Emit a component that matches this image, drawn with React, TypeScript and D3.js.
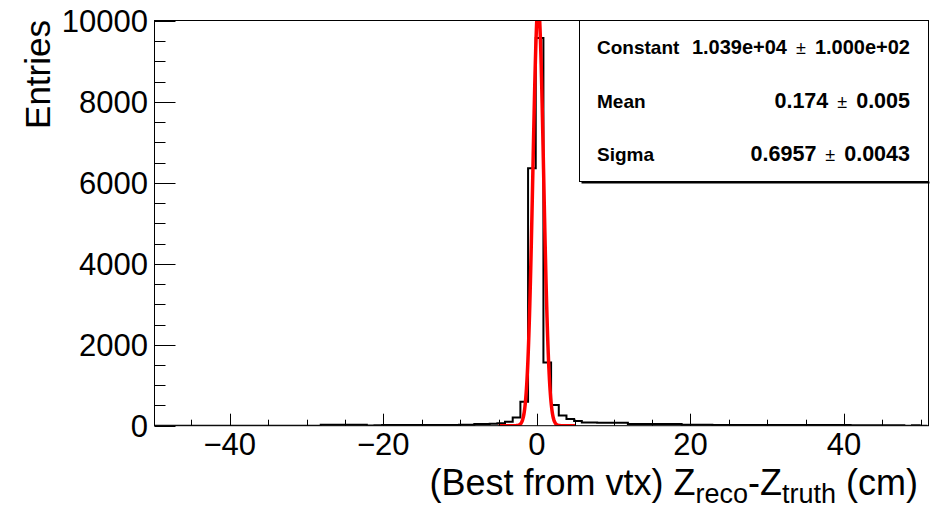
import React, { useRef, useEffect } from "react";
import * as d3 from "d3";

// histogram: 1 cm bins, first low edge at -50.15
const binStart = -50.15;
const binWidth = 1;
const counts = [
  0, 0, 0, 0, 0, 0, 0, 0, 0, 0, 0, 0, 0, 0, 0, 0, 0, 0, 0, 0, 0, 0, // -50..-29
  25, 24, 23, 23, 22, 21, // -28..-23
  4, // -22
  14, 15, 15, 16, 16, 17, 17, 18, 18, 19, 20, 22, 26, // -21..-9
  42, 45, 48, 60, 100, 200, 590, 6360, // -8..-1
  9580, // 0
  1560, 510, 250, 165, 115, // 1..5
  78, 76, 74, 73, 72, 70, // 6..11
  45, 44, 43, 42, 41, 40, 39, // 12..18
  22, 22, 21, 21, 20, 20, 20, 19, 19, 19, 18, 18, 18, 17, 17, // 19..33
  17, 16, 16, 16, 15, 15, 15, 14, 14, 14, 13, 13, 13, 12, // 34..47
  0, 14, 0, // 48..50
];

// gaussian fit
const fitConstant = 1.039e4;
const fitMean = 0.174;
const fitSigma = 0.6957;
const fitRange = [-5, 5];

const statNames = ["Constant", "Mean", "Sigma"];
const statValues = ["1.039e+04", "0.174", "0.6957"];
const statErrors = ["1.000e+02", "0.005", "0.0043"];
const statSizes = [20, 21.5, 21.5];

const xTicks = [-40, -20, 0, 20, 40];
const yTicks = [0, 2000, 4000, 6000, 8000, 10000];

const FONT = "'Liberation Sans', Arial, Helvetica, sans-serif";

export default function App() {
  const ref = useRef(null);

  useEffect(() => {
    const svg = d3.select(ref.current);
    svg.selectAll("*").remove();

    const left = 154.5, right = 928.5, top = 20.5, bottom = 425.7;
    const x = d3.scaleLinear().domain([-49.8, 51]).range([left, right]);
    const y = d3.scaleLinear().domain([0, 10000]).range([bottom, 21]);

    svg.append("rect").attr("width", 945).attr("height", 509).attr("fill", "#fff");

    svg.append("defs").append("clipPath").attr("id", "frame")
      .append("rect").attr("x", left).attr("y", top)
      .attr("width", right - left).attr("height", bottom - top);

    // histogram outline
    const pts = [];
    counts.forEach((c, i) => {
      const lo = binStart + i * binWidth;
      pts.push([lo, c], [lo + binWidth, c]);
    });
    const line = d3.line().x(d => x(d[0])).y(d => y(d[1]));
    svg.append("path")
      .attr("d", line(pts))
      .attr("clip-path", "url(#frame)")
      .attr("fill", "none")
      .attr("stroke", "#000")
      .attr("stroke-width", 2);

    // fit function
    const fx = d3.range(fitRange[0], fitRange[1] + 0.001, 0.04);
    const fit = fx.map(v => [v, fitConstant * Math.exp(-0.5 * ((v - fitMean) / fitSigma) ** 2)]);
    svg.append("path")
      .attr("d", line.curve(d3.curveMonotoneX)(fit))
      .attr("clip-path", "url(#frame)")
      .attr("fill", "none")
      .attr("stroke", "#ff0000")
      .attr("stroke-width", 3.5);

    // frame
    svg.append("rect")
      .attr("x", left).attr("y", top)
      .attr("width", right - left).attr("height", bottom - top)
      .attr("fill", "none").attr("stroke", "#000").attr("stroke-width", 1);

    // x ticks
    d3.range(-45, 51, 5).forEach(v => {
      const major = v % 20 === 0;
      svg.append("line")
        .attr("x1", Math.round(x(v)) + 0.5).attr("x2", Math.round(x(v)) + 0.5)
        .attr("y1", bottom).attr("y2", bottom - (major ? 12 : 6))
        .attr("stroke", "#000");
    });
    svg.selectAll(".xl").data(xTicks).join("text")
      .attr("x", d => x(d)).attr("y", 455)
      .attr("text-anchor", "middle")
      .attr("font-family", FONT).attr("font-size", 31)
      .text(d => (d < 0 ? "\u2212" + Math.abs(d) : d));

    // y ticks
    d3.range(0, 10001, 500).forEach(v => {
      const major = v % 2000 === 0;
      svg.append("line")
        .attr("x1", left).attr("x2", left + (major ? 21 : 11))
        .attr("y1", Math.round(y(v)) + 0.5).attr("y2", Math.round(y(v)) + 0.5)
        .attr("stroke", "#000");
    });
    svg.selectAll(".yl").data(yTicks).join("text")
      .attr("x", 148).attr("y", d => y(d) + 11)
      .attr("text-anchor", "end")
      .attr("font-family", FONT).attr("font-size", 31)
      .text(d => d);

    // axis titles
    svg.append("text")
      .attr("transform", "translate(50,20) rotate(-90)")
      .attr("text-anchor", "end")
      .attr("font-family", FONT).attr("font-size", 35)
      .text("Entries");

    const xt = svg.append("text")
      .attr("x", 918).attr("y", 495)
      .attr("text-anchor", "end")
      .attr("font-family", FONT).attr("font-size", 36);
    xt.append("tspan").text("(Best from vtx) Z");
    xt.append("tspan").attr("font-size", 27).attr("dy", 8).text("reco");
    xt.append("tspan").attr("dy", -8).text("-Z");
    xt.append("tspan").attr("font-size", 27).attr("dy", 8).text("truth");
    xt.append("tspan").attr("dy", -8).text(" (cm)");

    // stats box
    const bx = 579.5, by = 20.5, bw = 349, bh = 161;
    svg.append("rect").attr("x", bx).attr("y", by).attr("width", bw).attr("height", bh)
      .attr("fill", "#fff").attr("stroke", "#000");
    svg.append("line").attr("x1", bx + 2).attr("x2", bx + bw + 1)
      .attr("y1", by + bh + 1).attr("y2", by + bh + 1).attr("stroke", "#000").attr("stroke-width", 2);
    statNames.forEach((n, i) => {
      const ty = 54 + i * 53.5;
      const fs = statSizes[i];
      svg.append("text").attr("x", 597).attr("y", ty)
        .attr("font-family", FONT).attr("font-weight", "bold").attr("font-size", 19)
        .text(n);
      const err = svg.append("text").attr("x", 910).attr("y", ty)
        .attr("text-anchor", "end")
        .attr("font-family", FONT).attr("font-weight", "bold").attr("font-size", fs)
        .text(statErrors[i]);
      const ew = err.node().getComputedTextLength();
      const pm = svg.append("text").attr("x", 910 - ew - 9).attr("y", ty)
        .attr("text-anchor", "end")
        .attr("font-family", FONT).attr("font-size", 18)
        .text("\u00b1");
      const pw = pm.node().getComputedTextLength();
      svg.append("text").attr("x", 910 - ew - 9 - pw - 9).attr("y", ty)
        .attr("text-anchor", "end")
        .attr("font-family", FONT).attr("font-weight", "bold").attr("font-size", fs)
        .text(statValues[i]);
    });
  }, []);

  return (
    <svg ref={ref} width={945} height={509}
      style={{ position: "absolute", left: 0, top: 0, display: "block" }} />
  );
}
